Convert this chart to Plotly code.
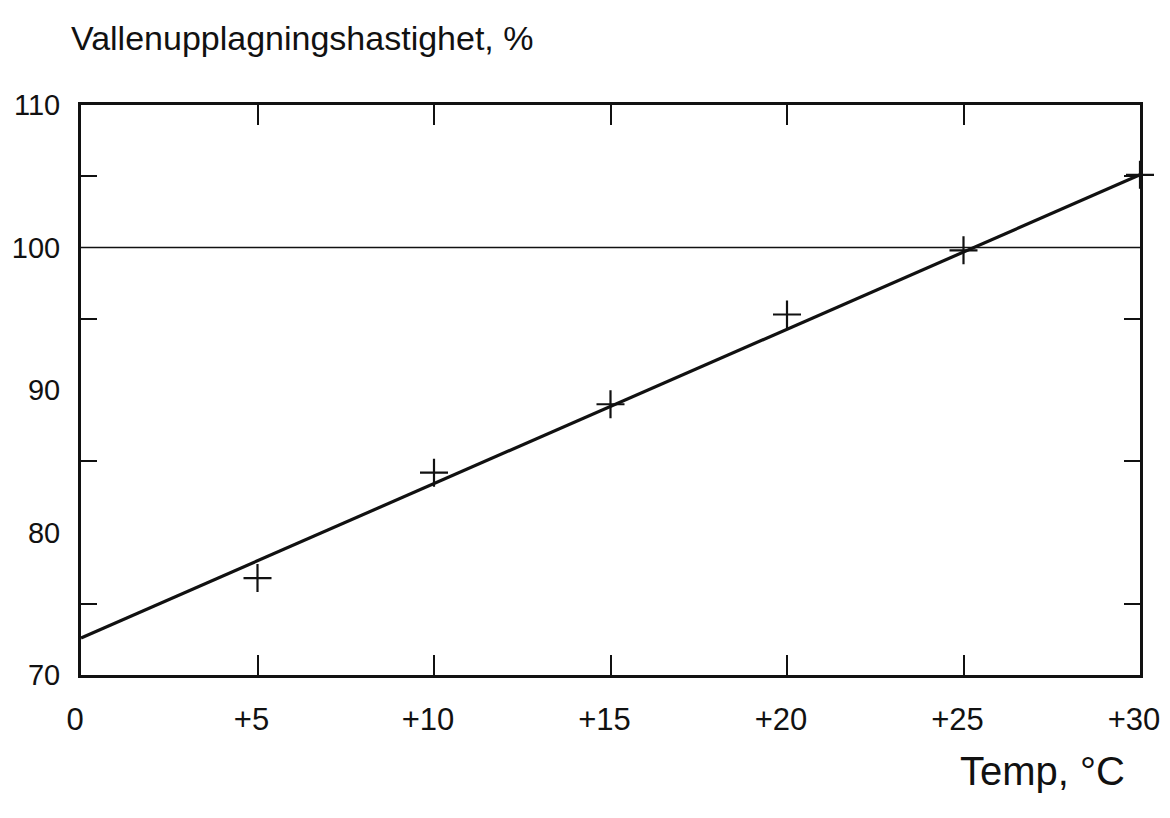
import plotly.graph_objects as go

# measured points (temperature vs. rate)
temp = [5, 10, 15, 20, 25, 30]
rate = [76.8, 84.2, 89.0, 95.3, 99.8, 105.1]

# fitted straight line, end points
fit_temp = [0, 30]
fit_rate = [72.6, 105.1]

x_ticks = [0, 5, 10, 15, 20, 25, 30]
x_labels = ["0", "+5", "+10", "+15", "+20", "+25", "+30"]
y_ticks = [70, 80, 90, 100, 110]
y_minor = [75, 85, 95, 105]

font_family = "Liberation Sans, Arial, sans-serif"
ink = "#111111"

fig = go.Figure()

# reference line at 100 %
fig.add_trace(go.Scatter(
    x=fit_temp, y=[100, 100],
    mode="lines",
    line=dict(color=ink, width=1.6),
    hoverinfo="skip",
    showlegend=False
))

# fitted line
fig.add_trace(go.Scatter(
    x=fit_temp, y=fit_rate,
    mode="lines",
    line=dict(color=ink, width=3.2),
    hoverinfo="skip",
    cliponaxis=False,
    showlegend=False
))

# measured points
fig.add_trace(go.Scatter(
    x=temp, y=rate,
    mode="markers",
    marker=dict(symbol="cross-thin", size=20, line=dict(color=ink, width=2.2)),
    cliponaxis=False,
    showlegend=False
))

# invisible trace to carry the minor tick axis
fig.add_trace(go.Scatter(
    x=[0], y=[70], yaxis="y2",
    mode="markers", marker=dict(opacity=0),
    hoverinfo="skip", showlegend=False
))

# page body has an 8px margin, so the figure is a bit smaller than the window
fig.update_layout(
    width=1154, height=802,
    margin=dict(l=73, r=22, t=97, b=135),
    paper_bgcolor="white",
    plot_bgcolor="white",
    font=dict(family=font_family, color=ink, size=31),
    xaxis=dict(
        range=[0, 30], automargin=False,
        tickvals=x_ticks, ticktext=x_labels,
        ticks="inside", ticklen=20, tickwidth=2, tickcolor=ink,
        showline=True, linecolor=ink, linewidth=3, mirror="ticks",
        showgrid=False, zeroline=False,
        ticklabelstandoff=15, ticklabelshift=-6,
        tickfont=dict(size=31),
    ),
    yaxis=dict(
        range=[70, 110], automargin=False,
        tickvals=y_ticks,
        ticks="", showline=True, linecolor=ink, linewidth=3, mirror=True,
        showgrid=False, zeroline=False,
        ticklabelstandoff=12,
        tickfont=dict(size=29),
    ),
    yaxis2=dict(
        range=[70, 110], overlaying="y", side="left", automargin=False,
        tickvals=y_minor, showticklabels=False,
        ticks="inside", ticklen=16, tickwidth=2, tickcolor=ink,
        showline=False, mirror="ticks",
        showgrid=False, zeroline=False,
    ),
    annotations=[
        dict(text="Vallenupplagningshastighet, %", xref="paper", yref="paper",
             x=-0.011, y=1.1175, xanchor="left", yanchor="middle", showarrow=False,
             font=dict(size=34)),
        dict(text="Temp, °C", xref="paper", yref="paper",
             x=0.988, y=-0.168, xanchor="right", yanchor="middle", showarrow=False,
             font=dict(size=40)),
    ],
)

fig.write_html("out.html")
